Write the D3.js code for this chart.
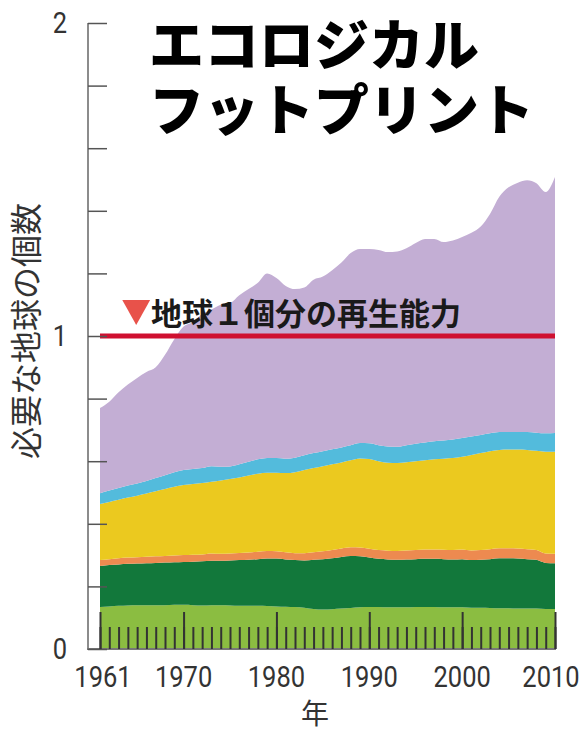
<!DOCTYPE html>
<html>
<head>
<meta charset="utf-8">
<script src="https://cdn.jsdelivr.net/npm/d3@7"></script>
<style>
  body { margin: 0; background: #fff; }
  svg { display: block; }
  text { font-family: "Noto Sans CJK JP", "Noto Sans", sans-serif; }
</style>
</head>
<body>
<svg id="chart" width="585" height="731"></svg>
<script>
// years 1961-2010, values in "number of Earths"
const years = d3.range(1961, 2011);

// layers from the bottom up (thickness of each layer)
const lightGreen = [.134,.136,.138,.139,.140,.140,.140,.140,.141,.141, .140,.139,.140,.140,.139,.138,.138,.138,.137,.136,
  .135,.134,.132,.128,.126,.127,.129,.131,.133,.134, .134,.133,.133,.133,.134,.134,.134,.133,.133,.133,
  .132,.132,.131,.130,.130,.129,.129,.129,.128,.128];
const darkGreen = [.131,.132,.132,.133,.133,.134,.135,.136,.136,.137, .139,.141,.142,.142,.144,.146,.147,.149,.152,.153,
  .151,.150,.151,.157,.161,.163,.165,.166,.163,.158, .154,.153,.152,.153,.153,.154,.154,.154,.153,.154,
  .152,.153,.156,.160,.160,.160,.158,.156,.147,.146];
const orange = [.019,.019,.020,.020,.020,.021,.021,.021,.022,.022, .022,.022,.023,.022,.022,.023,.023,.024,.024,.023,
  .023,.022,.023,.024,.025,.026,.027,.028,.028,.028, .028,.028,.028,.029,.029,.030,.030,.030,.030,.031,
  .031,.031,.032,.032,.032,.032,.032,.031,.030,.030];
const yellow = [.179,.183,.187,.192,.197,.202,.208,.214,.219,.224, .226,.228,.229,.234,.238,.241,.246,.249,.250,.251,
  .253,.259,.266,.269,.272,.274,.275,.278,.285,.287, .284,.281,.281,.282,.284,.285,.288,.291,.294,.296,
  .305,.310,.313,.314,.315,.316,.317,.317,.325,.326];
const cyan = [.035,.036,.037,.038,.039,.040,.042,.044,.047,.048, .048,.048,.050,.044,.040,.042,.044,.046,.047,.047,
  .046,.046,.047,.048,.048,.048,.048,.048,.049,.050, .051,.052,.052,.054,.056,.057,.058,.058,.059,.060,
  .059,.058,.057,.057,.056,.056,.057,.058,.059,.060];
const purple = [.272,.284,.306,.323,.337,.348,.354,.385,.425,.458, .470,.492,.501,.518,.522,.540,.552,.564,.590,.575,
  .552,.539,.536,.554,.558,.572,.591,.614,.620,.621, .624,.621,.624,.629,.641,.650,.646,.634,.636,.642,
  .651,.666,.701,.752,.782,.797,.805,.797,.771,.818];

const layerKeys = ['lightGreen', 'darkGreen', 'orange', 'yellow', 'cyan', 'purple'];
const layerColors = ['#8bbd41', '#12783b', '#ed8a50', '#ebc91f', '#53bbdc', '#c3aed4'];

const yTicks = d3.range(0, 2.0001, 0.2);
const yLabels = [0, 1, 2];
const majorYears = [1961, 1970, 1980, 1990, 2000, 2010];
const capacity = 1;

const title = ['エコロジカル', 'フットプリント'];
const capacityLabel = '地球１個分の再生能力';
const yTitle = '必要な地球の個数';
const xTitle = '年';

const numFont = 'Roboto, "Liberation Sans", sans-serif';

const svg = d3.select('#chart');

const x = d3.scaleLinear().domain([1961, 2010]).range([100, 555]);
const y = d3.scaleLinear().domain([0, 2]).range([649, 23]);

// build table for the stack
const table = years.map((yr, i) => ({
    year: yr,
    lightGreen: lightGreen[i], darkGreen: darkGreen[i], orange: orange[i],
    yellow: yellow[i], cyan: cyan[i], purple: purple[i]
}));

const stacked = d3.stack().keys(layerKeys)(table);

const area = d3.area()
    .x(d => x(d.data.year))
    .y0(d => y(d[0]))
    .y1(d => y(d[1]))
    .curve(d3.curveMonotoneX);

svg.append('g').selectAll('path')
    .data(stacked)
    .join('path')
    .attr('d', area)
    .attr('fill', (d, i) => layerColors[i]);

// capacity line
svg.append('line')
    .attr('x1', x(1961)).attr('x2', x(2010))
    .attr('y1', y(capacity)).attr('y2', y(capacity))
    .attr('stroke', '#cf1030')
    .attr('stroke-width', 5);

// axis lines
svg.append('line')
    .attr('x1', 88).attr('x2', 88)
    .attr('y1', y(2)).attr('y2', y(0))
    .attr('stroke', '#666').attr('stroke-width', 1.5);
svg.append('line')
    .attr('x1', 87).attr('x2', 556)
    .attr('y1', y(0)).attr('y2', y(0))
    .attr('stroke', '#777').attr('stroke-width', 2);

// y ticks (pointing into the plot)
const yTickAxis = svg.append('g')
    .attr('transform', 'translate(88,0)')
    .call(d3.axisRight(y).tickValues(yTicks).tickSize(19).tickFormat(''));
yTickAxis.select('.domain').remove();
yTickAxis.selectAll('line').attr('stroke', '#555').attr('stroke-width', 1.5);

// y labels
const yLabelAxis = svg.append('g')
    .attr('transform', 'translate(88,0)')
    .call(d3.axisLeft(y).tickValues(yLabels).tickSize(0).tickPadding(0).tickFormat(d3.format('d')));
yLabelAxis.select('.domain').remove();
yLabelAxis.selectAll('text')
    .attr('x', -21 / 0.85)
    .attr('transform', 'scale(0.85,1)')
    .attr('font-size', 30)
    .attr('fill', '#333')
    .style('font-family', numFont);

// year ticks (minor every year, tall on labelled years)
const minorAxis = svg.append('g')
    .attr('transform', `translate(0,${y(0)})`)
    .call(d3.axisTop(x).tickValues(years).tickSize(22).tickFormat(''));
minorAxis.select('.domain').remove();
minorAxis.selectAll('line').attr('stroke', '#333').attr('stroke-width', 2);

const majorAxis = svg.append('g')
    .attr('transform', `translate(0,${y(0)})`)
    .call(d3.axisTop(x).tickValues(majorYears).tickSize(37).tickFormat(''));
majorAxis.select('.domain').remove();
majorAxis.selectAll('line').attr('stroke', '#333').attr('stroke-width', 2);

// year labels
const xLabelAxis = svg.append('g')
    .attr('transform', `translate(0,${y(0)})`)
    .call(d3.axisBottom(x).tickValues(majorYears).tickSize(0).tickPadding(0).tickFormat(d3.format('d')));
xLabelAxis.select('.domain').remove();
xLabelAxis.selectAll('.tick')
    .attr('transform', d => `translate(${x(d) + (d === 1961 ? 3 : d === 2010 ? -4 : 0)},0)`);
xLabelAxis.selectAll('text')
    .attr('dy', null)
    .attr('y', 38)
    .attr('x', 0)
    .attr('transform', 'scale(0.85,1)')
    .attr('font-size', 30)
    .attr('fill', '#333')
    .style('font-family', numFont);

// axis titles
svg.append('text')
    .attr('transform', 'translate(38,331) rotate(-90)')
    .attr('text-anchor', 'middle')
    .attr('font-size', 32)
    .attr('fill', '#333')
    .text(yTitle);

svg.append('text')
    .attr('x', 315).attr('y', 724)
    .attr('text-anchor', 'middle')
    .attr('font-size', 28)
    .attr('fill', '#333')
    .text(xTitle);

// capacity marker and label
const ly = y(capacity);
svg.append('path')
    .attr('d', `M${x(1963.4)},${ly - 36}L${x(1966.4)},${ly - 36}L${x(1964.9)},${ly - 11}Z`)
    .attr('fill', '#e8524a');

svg.append('text')
    .attr('x', 151).attr('y', ly - 11)
    .attr('font-size', 31)
    .attr('font-weight', 'bold')
    .attr('fill', '#1a1a1a')
    .text(capacityLabel);

// title
svg.append('g').selectAll('text')
    .data(title)
    .join('text')
    .attr('x', 149)
    .attr('y', (d, i) => 65 + i * 65)
    .attr('font-size', 55)
    .attr('font-weight', 900)
    .attr('fill', '#000')
    .text(d => d);
</script>
</body>
</html>
